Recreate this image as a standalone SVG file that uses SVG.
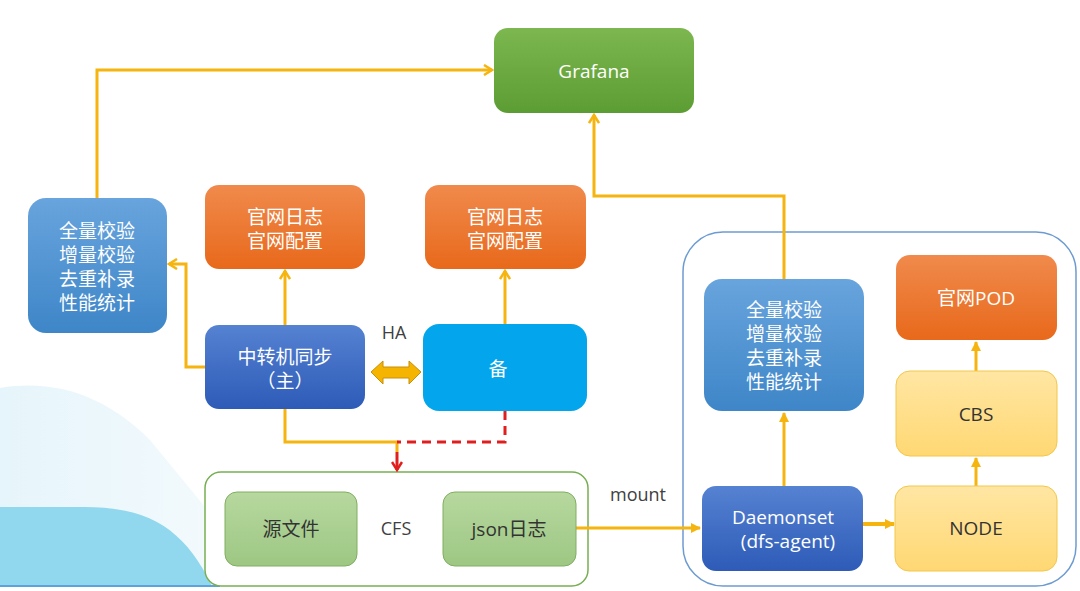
<svg xmlns="http://www.w3.org/2000/svg" width="1080" height="591" viewBox="0 0 1080 591">
<defs>
<linearGradient id="gGreen" x1="0" y1="0" x2="0" y2="1"><stop offset="0" stop-color="#7cb74f"/><stop offset="1" stop-color="#5c9d33"/></linearGradient>
<linearGradient id="gOrange" x1="0" y1="0" x2="0" y2="1"><stop offset="0" stop-color="#f08a4c"/><stop offset="1" stop-color="#e8691b"/></linearGradient>
<linearGradient id="gBlue" x1="0" y1="0" x2="0" y2="1"><stop offset="0" stop-color="#68a4dd"/><stop offset="1" stop-color="#3e86c8"/></linearGradient>
<linearGradient id="gDark" x1="0" y1="0" x2="0" y2="1"><stop offset="0" stop-color="#5682d2"/><stop offset="1" stop-color="#2d5bb7"/></linearGradient>
<linearGradient id="gLight" x1="0" y1="0" x2="0" y2="1"><stop offset="0" stop-color="#b7d89f"/><stop offset="1" stop-color="#9dc783"/></linearGradient>
<linearGradient id="gYellow" x1="0" y1="0" x2="0" y2="1"><stop offset="0" stop-color="#ffe6a3"/><stop offset="1" stop-color="#ffd873"/></linearGradient>
<linearGradient id="gBg" x1="0" y1="0" x2="1" y2="0"><stop offset="0" stop-color="#e6f5fb"/><stop offset="1" stop-color="#f6fbfd"/></linearGradient>
<marker id="chev" viewBox="0 0 12 12" refX="10" refY="6" markerWidth="12" markerHeight="12" markerUnits="userSpaceOnUse" orient="auto">
<path d="M2,1 L10,6 L2,11" fill="none" stroke="#f6b40e" stroke-width="2.5"/>
</marker>
<marker id="tri" viewBox="0 0 10 10" refX="9" refY="5" markerWidth="10" markerHeight="10" markerUnits="userSpaceOnUse" orient="auto">
<path d="M0,0 L10,5 L0,10 Z" fill="#f6b40e"/>
</marker>
<marker id="redChev" viewBox="0 0 12 12" refX="10" refY="6" markerWidth="12" markerHeight="12" markerUnits="userSpaceOnUse" orient="auto">
<path d="M2,1 L10,6 L2,11" fill="none" stroke="#e01e1e" stroke-width="2.5"/>
</marker>
</defs>
<style>
.t{font-family:"Open Sans","Noto Sans CJK SC",sans-serif;font-size:19px;text-anchor:middle;fill:#ffffff}
.d{fill:#333333}
.lbl{font-family:"Open Sans","Noto Sans CJK SC",sans-serif;font-size:18px;text-anchor:middle;fill:#404040}
.c{fill:none;stroke:#f6b40e;stroke-width:3}
</style>
<rect width="1080" height="591" fill="#ffffff"/>
<g id="background">
<path d="M0,388 C60,378 110,400 150,440 L270,586 L0,586 Z" fill="url(#gBg)"/>
<path d="M0,507 L85,507 C150,507 185,530 212,586 L0,586 Z" fill="#91d8ee"/>
<line x1="0" y1="586" x2="220" y2="586" stroke="#5ea2dc" stroke-width="2"/>
</g>
<g id="containers">
<rect id="cfs" x="205" y="472" width="383" height="114" rx="16" fill="#ffffff" stroke="#78ae52" stroke-width="1.5"/>
<rect id="k8s" x="683" y="232" width="393" height="354" rx="40" fill="none" stroke="#6d9bd1" stroke-width="1.5"/>
</g>
<g id="connectors">
<polyline class="c" points="97,198 97,70 492,70" marker-end="url(#chev)"/>
<polyline class="c" points="205,367 186,367 186,264 169,264" marker-end="url(#chev)"/>
<line class="c" x1="285" y1="325" x2="285" y2="271" marker-end="url(#chev)"/>
<line class="c" x1="505" y1="324" x2="505" y2="271" marker-end="url(#chev)"/>
<polyline class="c" points="285,409 285,442 397,442 397,452"/>
<polyline points="505,411 505,442 397,442" fill="none" stroke="#e01e1e" stroke-width="3" stroke-dasharray="9,6"/>
<line x1="397" y1="452" x2="397" y2="470" stroke="#e01e1e" stroke-width="3" marker-end="url(#redChev)"/>
<polyline class="c" points="784,279 784,196 594,196 594,115" marker-end="url(#chev)"/>
<line class="c" x1="576" y1="528" x2="700" y2="528" marker-end="url(#tri)"/>
<line class="c" x1="784" y1="486" x2="784" y2="413" marker-end="url(#tri)"/>
<line x1="863" y1="524" x2="894" y2="524" stroke="#f6b40e" stroke-width="4" marker-end="url(#tri)"/>
<line class="c" x1="976" y1="486" x2="976" y2="458" marker-end="url(#tri)"/>
<line class="c" x1="976" y1="371" x2="976" y2="342" marker-end="url(#tri)"/>
<polygon points="371,372 383,361 383,367 409,367 409,361 421,372 409,384 409,378 383,378 383,384" fill="#f5b400" stroke="#c98f0a" stroke-width="1"/>
<text class="lbl" x="394" y="339">HA</text>
<text class="lbl" x="638" y="501">mount</text>
<text class="lbl" x="396" y="535">CFS</text>
</g>
<g id="grafana">
<rect x="494" y="28" width="200" height="85" rx="14" fill="url(#gGreen)"/>
<text class="t" x="594" y="78">Grafana</text>
</g>
<g id="check-left">
<rect x="28" y="198" width="139" height="135" rx="18" fill="url(#gBlue)"/>
<text class="t" x="97" y="238">全量校验</text>
<text class="t" x="97" y="262">增量校验</text>
<text class="t" x="97" y="286">去重补录</text>
<text class="t" x="97" y="310">性能统计</text>
</g>
<g id="site1">
<rect x="205" y="185" width="160" height="84" rx="14" fill="url(#gOrange)"/>
<text class="t" x="285" y="224">官网日志</text>
<text class="t" x="285" y="248">官网配置</text>
</g>
<g id="site2">
<rect x="425" y="185" width="161" height="84" rx="14" fill="url(#gOrange)"/>
<text class="t" x="505" y="224">官网日志</text>
<text class="t" x="505" y="248">官网配置</text>
</g>
<g id="relay-main">
<rect x="205" y="325" width="160" height="84" rx="14" fill="url(#gDark)"/>
<text class="t" x="285" y="364">中转机同步</text>
<text class="t" x="285" y="388">（主）</text>
</g>
<g id="relay-backup">
<rect x="423" y="324" width="164" height="87" rx="16" fill="#03a6ec"/>
<text class="t" x="498" y="376">备</text>
</g>
<g id="src">
<rect x="225" y="492" width="132" height="74" rx="12" fill="url(#gLight)" stroke="#80ae60" stroke-width="1"/>
<text class="t d" x="291" y="536">源文件</text>
</g>
<g id="json">
<rect x="443" y="492" width="133" height="74" rx="12" fill="url(#gLight)" stroke="#80ae60" stroke-width="1"/>
<text class="t d" x="509" y="536">json日志</text>
</g>
<g id="check-right">
<rect x="704" y="279" width="160" height="132" rx="18" fill="url(#gBlue)"/>
<text class="t" x="784" y="317">全量校验</text>
<text class="t" x="784" y="341">增量校验</text>
<text class="t" x="784" y="365">去重补录</text>
<text class="t" x="784" y="389">性能统计</text>
</g>
<g id="pod">
<rect x="896" y="255" width="161" height="85" rx="14" fill="url(#gOrange)"/>
<text class="t" x="976" y="305">官网POD</text>
</g>
<g id="cbs">
<rect x="896" y="371" width="161" height="85" rx="14" fill="url(#gYellow)" stroke="#f2c74a" stroke-width="1"/>
<text class="t d" x="976" y="421">CBS</text>
</g>
<g id="node">
<rect x="895" y="486" width="162" height="85" rx="14" fill="url(#gYellow)" stroke="#f2c74a" stroke-width="1"/>
<text class="t d" x="976" y="535">NODE</text>
</g>
<g id="daemonset">
<rect x="702" y="486" width="161" height="85" rx="14" fill="url(#gDark)"/>
<text class="t" x="783" y="524">Daemonset</text>
<text class="t" x="788" y="548">(dfs-agent)</text>
</g>
</svg>
